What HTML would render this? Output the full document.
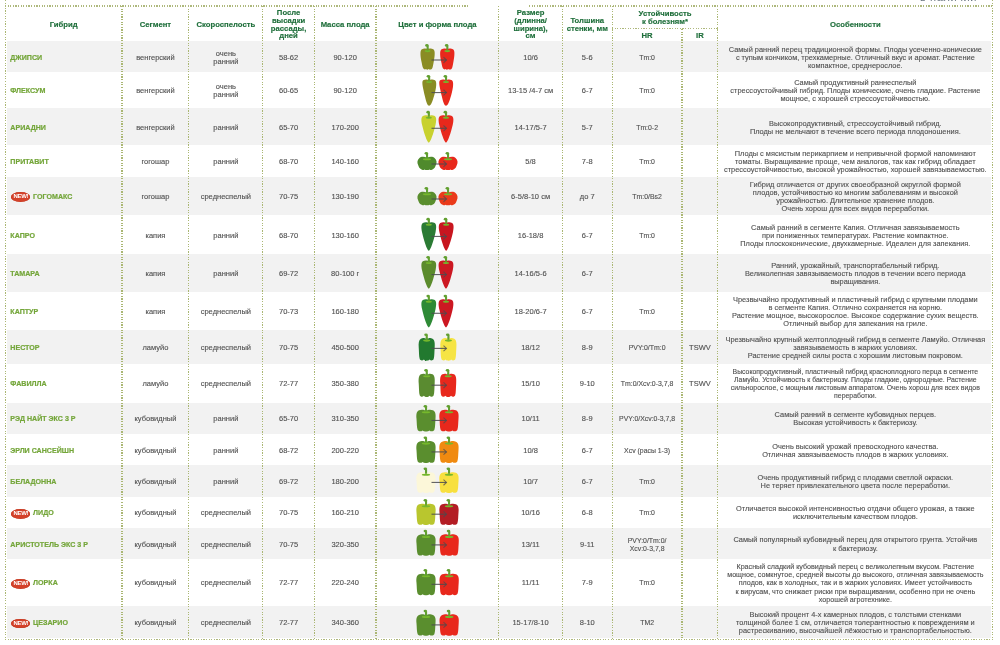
<!DOCTYPE html>
<html lang="ru"><head><meta charset="utf-8"><title>Перец</title><style>
*{margin:0;padding:0;box-sizing:border-box}
html,body{width:1000px;height:645px;overflow:hidden;background:#fff}
body{position:relative;font-family:"Liberation Sans",Arial,sans-serif;color:#505050}
.bg{position:absolute;left:7px;width:983.5px;background:#f2f2f2}
.c{position:absolute;display:flex;align-items:center;justify-content:center;text-align:center;font-size:7.5px;line-height:8px;white-space:nowrap;padding-top:2px;-webkit-text-stroke:0.12px #555}
.h{color:#1f6f3b;font-weight:bold;font-size:7.7px;line-height:7.75px;-webkit-text-stroke:0.15px #1f6f3b}
.n{justify-content:flex-start;padding-left:5px;color:#74a63a;font-weight:bold;font-size:7.1px;-webkit-text-stroke:0.2px #74a63a}
.d{font-size:7.4px;line-height:8.1px}
.hr{font-size:6.9px}
.new{display:inline-block;background:#d4412a;box-shadow:inset 0 0 0 0.6px #c23a22;color:#fff;border-radius:50%;font-size:6px;line-height:9.6px;height:9.6px;width:19.2px;text-align:center;margin-right:2.6px;margin-left:1px;font-weight:bold;letter-spacing:-0.35px;vertical-align:middle;-webkit-text-stroke:0;position:relative;top:0.4px}
.vl{position:absolute;width:1.2px;background:repeating-linear-gradient(to bottom,#abb774 0,#abb774 1.2px,transparent 1.2px,transparent 2.61px)}
.hl{position:absolute;height:1.2px;background:repeating-linear-gradient(to right,#aeb87c 0,#aeb87c 1.2px,transparent 1.2px,transparent 2.61px)}
svg{position:absolute;left:0;top:0}
.top{position:absolute;left:920px;top:-8.2px;font-size:11px;line-height:11px;color:#6a7680;letter-spacing:0.6px;white-space:nowrap}
</style></head>
<body>
<div class="top">в наличии</div>
<div class="bg" style="top:41px;height:31.30px"></div><div class="bg" style="top:108.3px;height:36.70px"></div><div class="bg" style="top:176.5px;height:38.80px"></div><div class="bg" style="top:254px;height:37.60px"></div><div class="bg" style="top:330px;height:34.00px"></div><div class="bg" style="top:402.5px;height:31.80px"></div><div class="bg" style="top:465px;height:31.50px"></div><div class="bg" style="top:528.3px;height:30.50px"></div><div class="bg" style="top:606.2px;height:31.80px"></div><div class="c h" style="left:5.3px;top:6px;width:116.75px;height:35.00px">Гибрид</div><div class="c h" style="left:122.05px;top:6px;width:66.80px;height:35.00px">Сегмент</div><div class="c h" style="left:188.85px;top:6px;width:74.05px;height:35.00px">Скороспелость</div><div class="c h" style="left:262.9px;top:6px;width:51.40px;height:35.00px">После<br>высадки<br>рассады,<br>дней</div><div class="c h" style="left:314.3px;top:6px;width:61.70px;height:35.00px">Масса плода</div><div class="c h" style="left:376.0px;top:6px;width:122.90px;height:35.00px">Цвет и форма плода</div><div class="c h" style="left:498.9px;top:6px;width:63.40px;height:35.00px">Размер<br>(длинна/<br>ширина),<br>см</div><div class="c h" style="left:562.3px;top:6px;width:49.90px;height:35.00px">Толшина<br>стенки, мм</div><div class="c h" style="left:612.2px;top:6px;width:105.70px;height:22.00px">Устойчивость<br>к болезням*</div><div class="c h" style="left:612.2px;top:28px;width:69.80px;height:13.00px">HR</div><div class="c h" style="left:682.0px;top:28px;width:35.90px;height:13.00px">IR</div><div class="c h" style="left:717.9px;top:6px;width:274.90px;height:35.00px">Особенности</div><div class="c n" style="left:5.3px;top:41px;width:116.75px;height:31.30px">ДЖИПСИ</div><div class="c" style="left:122.05px;top:41px;width:66.80px;height:31.30px">венгерский</div><div class="c" style="left:188.85px;top:41px;width:74.05px;height:31.30px">очень<br>ранний</div><div class="c" style="left:262.9px;top:41px;width:51.40px;height:31.30px">58-62</div><div class="c" style="left:314.3px;top:41px;width:61.70px;height:31.30px">90-120</div><div class="c" style="left:498.9px;top:41px;width:63.40px;height:31.30px">10/6</div><div class="c" style="left:562.3px;top:41px;width:49.90px;height:31.30px">5-6</div><div class="c hr" style="left:612.2px;top:41px;width:69.80px;height:31.30px">Tm:0</div><div class="c" style="left:682.0px;top:41px;width:35.90px;height:31.30px"></div><div class="c d" style="left:717.9px;top:41px;width:274.90px;height:31.30px">Самый ранний перец традиционной формы. Плоды усеченно-конические<br>с тупым кончиком, трехкамерные. Отличный вкус и аромат. Растение<br>компактное, среднерослое.</div><div class="c n" style="left:5.3px;top:72.3px;width:116.75px;height:36.00px">ФЛЕКСУМ</div><div class="c" style="left:122.05px;top:72.3px;width:66.80px;height:36.00px">венгерский</div><div class="c" style="left:188.85px;top:72.3px;width:74.05px;height:36.00px">очень<br>ранний</div><div class="c" style="left:262.9px;top:72.3px;width:51.40px;height:36.00px">60-65</div><div class="c" style="left:314.3px;top:72.3px;width:61.70px;height:36.00px">90-120</div><div class="c" style="left:498.9px;top:72.3px;width:63.40px;height:36.00px">13-15 /4-7 см</div><div class="c" style="left:562.3px;top:72.3px;width:49.90px;height:36.00px">6-7</div><div class="c hr" style="left:612.2px;top:72.3px;width:69.80px;height:36.00px">Tm:0</div><div class="c" style="left:682.0px;top:72.3px;width:35.90px;height:36.00px"></div><div class="c d" style="left:717.9px;top:72.3px;width:274.90px;height:36.00px">Самый продуктивный раннеспелый<br>стрессоустойчивый гибрид. Плоды конические, очень гладкие. Растение<br>мощное, с хорошей стрессоустойчивостью.</div><div class="c n" style="left:5.3px;top:108.3px;width:116.75px;height:36.70px">АРИАДНИ</div><div class="c" style="left:122.05px;top:108.3px;width:66.80px;height:36.70px">венгерский</div><div class="c" style="left:188.85px;top:108.3px;width:74.05px;height:36.70px">ранний</div><div class="c" style="left:262.9px;top:108.3px;width:51.40px;height:36.70px">65-70</div><div class="c" style="left:314.3px;top:108.3px;width:61.70px;height:36.70px">170-200</div><div class="c" style="left:498.9px;top:108.3px;width:63.40px;height:36.70px">14-17/5-7</div><div class="c" style="left:562.3px;top:108.3px;width:49.90px;height:36.70px">5-7</div><div class="c hr" style="left:612.2px;top:108.3px;width:69.80px;height:36.70px">Tm:0-2</div><div class="c" style="left:682.0px;top:108.3px;width:35.90px;height:36.70px"></div><div class="c d" style="left:717.9px;top:108.3px;width:274.90px;height:36.70px">Высокопродуктивный, стрессоустойчивый гибрид.<br>Плоды не мельчают в течение всего периода плодоношения.</div><div class="c n" style="left:5.3px;top:145px;width:116.75px;height:31.50px">ПРИТАВИТ</div><div class="c" style="left:122.05px;top:145px;width:66.80px;height:31.50px">гогошар</div><div class="c" style="left:188.85px;top:145px;width:74.05px;height:31.50px">ранний</div><div class="c" style="left:262.9px;top:145px;width:51.40px;height:31.50px">68-70</div><div class="c" style="left:314.3px;top:145px;width:61.70px;height:31.50px">140-160</div><div class="c" style="left:498.9px;top:145px;width:63.40px;height:31.50px">5/8</div><div class="c" style="left:562.3px;top:145px;width:49.90px;height:31.50px">7-8</div><div class="c hr" style="left:612.2px;top:145px;width:69.80px;height:31.50px">Tm:0</div><div class="c" style="left:682.0px;top:145px;width:35.90px;height:31.50px"></div><div class="c d" style="left:717.9px;top:145px;width:274.90px;height:31.50px">Плоды с мясистым перикарпием и непривычной формой напоминают<br>томаты. Выращивание проще, чем аналогов, так как гибрид обладает<br>стрессоустойчивостью, высокой урожайностью, хорошей завязываемостью.</div><div class="c n" style="left:5.3px;top:176.5px;width:116.75px;height:38.80px"><span class="new">NEW!</span>ГОГОМАКС</div><div class="c" style="left:122.05px;top:176.5px;width:66.80px;height:38.80px">гогошар</div><div class="c" style="left:188.85px;top:176.5px;width:74.05px;height:38.80px">среднеспелый</div><div class="c" style="left:262.9px;top:176.5px;width:51.40px;height:38.80px">70-75</div><div class="c" style="left:314.3px;top:176.5px;width:61.70px;height:38.80px">130-190</div><div class="c" style="left:498.9px;top:176.5px;width:63.40px;height:38.80px">6-5/8-10 см</div><div class="c" style="left:562.3px;top:176.5px;width:49.90px;height:38.80px">до 7</div><div class="c hr" style="left:612.2px;top:176.5px;width:69.80px;height:38.80px">Tm:0/Bs2</div><div class="c" style="left:682.0px;top:176.5px;width:35.90px;height:38.80px"></div><div class="c d" style="left:717.9px;top:176.5px;width:274.90px;height:38.80px">Гибрид отличается от других своеобразной округлой формой<br>плодов, устойчивостью ко многим заболеваниям и высокой<br>урожайностью. Длительное хранение плодов.<br>Очень хорош для всех видов переработки.</div><div class="c n" style="left:5.3px;top:215.3px;width:116.75px;height:38.70px">КАПРО</div><div class="c" style="left:122.05px;top:215.3px;width:66.80px;height:38.70px">капия</div><div class="c" style="left:188.85px;top:215.3px;width:74.05px;height:38.70px">ранний</div><div class="c" style="left:262.9px;top:215.3px;width:51.40px;height:38.70px">68-70</div><div class="c" style="left:314.3px;top:215.3px;width:61.70px;height:38.70px">130-160</div><div class="c" style="left:498.9px;top:215.3px;width:63.40px;height:38.70px">16-18/8</div><div class="c" style="left:562.3px;top:215.3px;width:49.90px;height:38.70px">6-7</div><div class="c hr" style="left:612.2px;top:215.3px;width:69.80px;height:38.70px">Tm:0</div><div class="c" style="left:682.0px;top:215.3px;width:35.90px;height:38.70px"></div><div class="c d" style="left:717.9px;top:215.3px;width:274.90px;height:38.70px">Самый ранний в сегменте Капия. Отличная завязываемость<br>при пониженных температурах. Растение компактное.<br>Плоды плоскоконические, двухкамерные. Идеален для запекания.</div><div class="c n" style="left:5.3px;top:254px;width:116.75px;height:37.60px">ТАМАРА</div><div class="c" style="left:122.05px;top:254px;width:66.80px;height:37.60px">капия</div><div class="c" style="left:188.85px;top:254px;width:74.05px;height:37.60px">ранний</div><div class="c" style="left:262.9px;top:254px;width:51.40px;height:37.60px">69-72</div><div class="c" style="left:314.3px;top:254px;width:61.70px;height:37.60px">80-100 г</div><div class="c" style="left:498.9px;top:254px;width:63.40px;height:37.60px">14-16/5-6</div><div class="c" style="left:562.3px;top:254px;width:49.90px;height:37.60px">6-7</div><div class="c hr" style="left:612.2px;top:254px;width:69.80px;height:37.60px"></div><div class="c" style="left:682.0px;top:254px;width:35.90px;height:37.60px"></div><div class="c d" style="left:717.9px;top:254px;width:274.90px;height:37.60px">Ранний, урожайный, транспортабельный гибрид.<br>Великолепная завязываемость плодов в течении всего периода<br>выращивания.</div><div class="c n" style="left:5.3px;top:291.6px;width:116.75px;height:38.40px">КАПТУР</div><div class="c" style="left:122.05px;top:291.6px;width:66.80px;height:38.40px">капия</div><div class="c" style="left:188.85px;top:291.6px;width:74.05px;height:38.40px">среднеспелый</div><div class="c" style="left:262.9px;top:291.6px;width:51.40px;height:38.40px">70-73</div><div class="c" style="left:314.3px;top:291.6px;width:61.70px;height:38.40px">160-180</div><div class="c" style="left:498.9px;top:291.6px;width:63.40px;height:38.40px">18-20/6-7</div><div class="c" style="left:562.3px;top:291.6px;width:49.90px;height:38.40px">6-7</div><div class="c hr" style="left:612.2px;top:291.6px;width:69.80px;height:38.40px">Tm:0</div><div class="c" style="left:682.0px;top:291.6px;width:35.90px;height:38.40px"></div><div class="c d" style="left:717.9px;top:291.6px;width:274.90px;height:38.40px">Чрезвычайно продуктивный и пластичный гибрид с крупными плодами<br>в сегменте Капия. Отлично сохраняется на корню.<br>Растение мощное, высокорослое. Высокое содержание сухих веществ.<br>Отличный выбор для запекания на гриле.</div><div class="c n" style="left:5.3px;top:330px;width:116.75px;height:34.00px">НЕСТОР</div><div class="c" style="left:122.05px;top:330px;width:66.80px;height:34.00px">ламуйо</div><div class="c" style="left:188.85px;top:330px;width:74.05px;height:34.00px">среднеспелый</div><div class="c" style="left:262.9px;top:330px;width:51.40px;height:34.00px">70-75</div><div class="c" style="left:314.3px;top:330px;width:61.70px;height:34.00px">450-500</div><div class="c" style="left:498.9px;top:330px;width:63.40px;height:34.00px">18/12</div><div class="c" style="left:562.3px;top:330px;width:49.90px;height:34.00px">8-9</div><div class="c hr" style="left:612.2px;top:330px;width:69.80px;height:34.00px">PVY:0/Tm:0</div><div class="c" style="left:682.0px;top:330px;width:35.90px;height:34.00px">TSWV</div><div class="c d" style="left:717.9px;top:330px;width:274.90px;height:34.00px">Чрезвычайно крупный желтоплодный гибрид в сегменте Ламуйо. Отличная<br>завязываемость в жарких условиях.<br>Растение средней силы роста с хорошим листовым покровом.</div><div class="c n" style="left:5.3px;top:364px;width:116.75px;height:38.50px">ФАВИЛЛА</div><div class="c" style="left:122.05px;top:364px;width:66.80px;height:38.50px">ламуйо</div><div class="c" style="left:188.85px;top:364px;width:74.05px;height:38.50px">среднеспелый</div><div class="c" style="left:262.9px;top:364px;width:51.40px;height:38.50px">72-77</div><div class="c" style="left:314.3px;top:364px;width:61.70px;height:38.50px">350-380</div><div class="c" style="left:498.9px;top:364px;width:63.40px;height:38.50px">15/10</div><div class="c" style="left:562.3px;top:364px;width:49.90px;height:38.50px">9-10</div><div class="c hr" style="left:612.2px;top:364px;width:69.80px;height:38.50px">Tm:0/Xcv:0-3,7,8</div><div class="c" style="left:682.0px;top:364px;width:35.90px;height:38.50px">TSWV</div><div class="c d" style="left:717.9px;top:364px;width:274.90px;height:38.50px"><span style="font-size:6.9px">Высокопродуктивный, пластичный гибрид красноплодного перца в сегменте<br>Ламуйо. Устойчивость к бактериозу. Плоды гладкие, однородные. Растение<br>сильнорослое, с мощным листовым аппаратом. Очень хорош для всех видов<br>переработки.</span></div><div class="c n" style="left:5.3px;top:402.5px;width:116.75px;height:31.80px">РЭД НАЙТ ЭКС 3 Р</div><div class="c" style="left:122.05px;top:402.5px;width:66.80px;height:31.80px">кубовидный</div><div class="c" style="left:188.85px;top:402.5px;width:74.05px;height:31.80px">ранний</div><div class="c" style="left:262.9px;top:402.5px;width:51.40px;height:31.80px">65-70</div><div class="c" style="left:314.3px;top:402.5px;width:61.70px;height:31.80px">310-350</div><div class="c" style="left:498.9px;top:402.5px;width:63.40px;height:31.80px">10/11</div><div class="c" style="left:562.3px;top:402.5px;width:49.90px;height:31.80px">8-9</div><div class="c hr" style="left:612.2px;top:402.5px;width:69.80px;height:31.80px">PVY:0/Xcv:0-3,7,8</div><div class="c" style="left:682.0px;top:402.5px;width:35.90px;height:31.80px"></div><div class="c d" style="left:717.9px;top:402.5px;width:274.90px;height:31.80px">Самый ранний в сегменте кубовидных перцев.<br>Высокая устойчивость к бактериозу.</div><div class="c n" style="left:5.3px;top:434.3px;width:116.75px;height:30.70px">ЭРЛИ САНСЕЙШН</div><div class="c" style="left:122.05px;top:434.3px;width:66.80px;height:30.70px">кубовидный</div><div class="c" style="left:188.85px;top:434.3px;width:74.05px;height:30.70px">ранний</div><div class="c" style="left:262.9px;top:434.3px;width:51.40px;height:30.70px">68-72</div><div class="c" style="left:314.3px;top:434.3px;width:61.70px;height:30.70px">200-220</div><div class="c" style="left:498.9px;top:434.3px;width:63.40px;height:30.70px">10/8</div><div class="c" style="left:562.3px;top:434.3px;width:49.90px;height:30.70px">6-7</div><div class="c hr" style="left:612.2px;top:434.3px;width:69.80px;height:30.70px">Xcv (расы 1-3)</div><div class="c" style="left:682.0px;top:434.3px;width:35.90px;height:30.70px"></div><div class="c d" style="left:717.9px;top:434.3px;width:274.90px;height:30.70px">Очень высокий урожай превосходного качества.<br>Отличная завязываемость плодов в жарких условиях.</div><div class="c n" style="left:5.3px;top:465px;width:116.75px;height:31.50px">БЕЛАДОННА</div><div class="c" style="left:122.05px;top:465px;width:66.80px;height:31.50px">кубовидный</div><div class="c" style="left:188.85px;top:465px;width:74.05px;height:31.50px">ранний</div><div class="c" style="left:262.9px;top:465px;width:51.40px;height:31.50px">69-72</div><div class="c" style="left:314.3px;top:465px;width:61.70px;height:31.50px">180-200</div><div class="c" style="left:498.9px;top:465px;width:63.40px;height:31.50px">10/7</div><div class="c" style="left:562.3px;top:465px;width:49.90px;height:31.50px">6-7</div><div class="c hr" style="left:612.2px;top:465px;width:69.80px;height:31.50px">Tm:0</div><div class="c" style="left:682.0px;top:465px;width:35.90px;height:31.50px"></div><div class="c d" style="left:717.9px;top:465px;width:274.90px;height:31.50px">Очень продуктивный гибрид с плодами светлой окраски.<br>Не теряет привлекательного цвета после переработки.</div><div class="c n" style="left:5.3px;top:496.5px;width:116.75px;height:31.80px"><span class="new">NEW!</span>ЛИДО</div><div class="c" style="left:122.05px;top:496.5px;width:66.80px;height:31.80px">кубовидный</div><div class="c" style="left:188.85px;top:496.5px;width:74.05px;height:31.80px">среднеспелый</div><div class="c" style="left:262.9px;top:496.5px;width:51.40px;height:31.80px">70-75</div><div class="c" style="left:314.3px;top:496.5px;width:61.70px;height:31.80px">160-210</div><div class="c" style="left:498.9px;top:496.5px;width:63.40px;height:31.80px">10/16</div><div class="c" style="left:562.3px;top:496.5px;width:49.90px;height:31.80px">6-8</div><div class="c hr" style="left:612.2px;top:496.5px;width:69.80px;height:31.80px">Tm:0</div><div class="c" style="left:682.0px;top:496.5px;width:35.90px;height:31.80px"></div><div class="c d" style="left:717.9px;top:496.5px;width:274.90px;height:31.80px">Отличается высокой интенсивностью отдачи общего урожая, а также<br>исключительным качеством плодов.</div><div class="c n" style="left:5.3px;top:528.3px;width:116.75px;height:30.50px">АРИСТОТЕЛЬ ЭКС 3 Р</div><div class="c" style="left:122.05px;top:528.3px;width:66.80px;height:30.50px">кубовидный</div><div class="c" style="left:188.85px;top:528.3px;width:74.05px;height:30.50px">среднеспелый</div><div class="c" style="left:262.9px;top:528.3px;width:51.40px;height:30.50px">70-75</div><div class="c" style="left:314.3px;top:528.3px;width:61.70px;height:30.50px">320-350</div><div class="c" style="left:498.9px;top:528.3px;width:63.40px;height:30.50px">13/11</div><div class="c" style="left:562.3px;top:528.3px;width:49.90px;height:30.50px">9-11</div><div class="c hr" style="left:612.2px;top:528.3px;width:69.80px;height:30.50px">PVY:0/Tm:0/<br>Xcv:0-3,7,8</div><div class="c" style="left:682.0px;top:528.3px;width:35.90px;height:30.50px"></div><div class="c d" style="left:717.9px;top:528.3px;width:274.90px;height:30.50px">Самый популярный кубовидный перец для открытого грунта. Устойчив<br>к бактериозу.</div><div class="c n" style="left:5.3px;top:558.8px;width:116.75px;height:47.40px"><span class="new">NEW!</span>ЛОРКА</div><div class="c" style="left:122.05px;top:558.8px;width:66.80px;height:47.40px">кубовидный</div><div class="c" style="left:188.85px;top:558.8px;width:74.05px;height:47.40px">среднеспелый</div><div class="c" style="left:262.9px;top:558.8px;width:51.40px;height:47.40px">72-77</div><div class="c" style="left:314.3px;top:558.8px;width:61.70px;height:47.40px">220-240</div><div class="c" style="left:498.9px;top:558.8px;width:63.40px;height:47.40px">11/11</div><div class="c" style="left:562.3px;top:558.8px;width:49.90px;height:47.40px">7-9</div><div class="c hr" style="left:612.2px;top:558.8px;width:69.80px;height:47.40px">Tm:0</div><div class="c" style="left:682.0px;top:558.8px;width:35.90px;height:47.40px"></div><div class="c d" style="left:717.9px;top:558.8px;width:274.90px;height:47.40px"><span style="font-size:7.15px">Красный сладкий кубовидный перец с великолепным вкусом. Растение<br>мощное, сомкнутое, средней высоты до высокого, отличная завязываемость<br>плодов, как в холодных, так и в жарких условиях. Имеет устойчивость<br>к вирусам, что снижает риски при выращивании, особенно при не очень<br>хорошей агротехнике.</span></div><div class="c n" style="left:5.3px;top:606.2px;width:116.75px;height:31.80px"><span class="new">NEW!</span>ЦЕЗАРИО</div><div class="c" style="left:122.05px;top:606.2px;width:66.80px;height:31.80px">кубовидный</div><div class="c" style="left:188.85px;top:606.2px;width:74.05px;height:31.80px">среднеспелый</div><div class="c" style="left:262.9px;top:606.2px;width:51.40px;height:31.80px">72-77</div><div class="c" style="left:314.3px;top:606.2px;width:61.70px;height:31.80px">340-360</div><div class="c" style="left:498.9px;top:606.2px;width:63.40px;height:31.80px">15-17/8-10</div><div class="c" style="left:562.3px;top:606.2px;width:49.90px;height:31.80px">8-10</div><div class="c hr" style="left:612.2px;top:606.2px;width:69.80px;height:31.80px">TM2</div><div class="c" style="left:682.0px;top:606.2px;width:35.90px;height:31.80px"></div><div class="c d" style="left:717.9px;top:606.2px;width:274.90px;height:31.80px">Высокий процент 4-х камерных плодов, с толстыми стенками<br>толщиной более 1 см, отличается толерантностью к повреждениям и<br>растрескиванию, высочайшей лёжкостью и транспортабельностью.</div>
<div class="vl" style="left:4.70px;top:0px;height:640.3px"></div><div class="vl" style="left:992.20px;top:0px;height:640.3px"></div><div class="vl" style="left:121.45px;top:6px;height:633.6px"></div><div class="vl" style="left:188.25px;top:6px;height:633.6px"></div><div class="vl" style="left:262.30px;top:6px;height:633.6px"></div><div class="vl" style="left:313.70px;top:6px;height:633.6px"></div><div class="vl" style="left:375.40px;top:6px;height:633.6px"></div><div class="vl" style="left:498.30px;top:6px;height:633.6px"></div><div class="vl" style="left:561.70px;top:6px;height:633.6px"></div><div class="vl" style="left:611.60px;top:6px;height:633.6px"></div><div class="vl" style="left:681.40px;top:28.6px;height:611.0px"></div><div class="vl" style="left:717.30px;top:6px;height:633.6px"></div><div class="hl" style="left:5.3px;top:5.40px;width:464.70px"></div><div class="hl" style="left:529px;top:5.40px;width:464.40px"></div><div class="hl" style="left:612.2px;top:28.00px;width:105.70px"></div><div class="hl" style="left:5.3px;top:639.00px;width:988.10px"></div>
<svg width="1000" height="645" viewBox="0 0 1000 645"><rect x="426.60" y="45.70" width="2.1" height="4.40" fill="#62a030"/><ellipse cx="426.90" cy="45.45" rx="1.75" ry="1.35" fill="#62a030"/><path d="M421.98,49.13 C424.64,47.87 426.42,48.92 427.60,49.34 C428.78,48.92 430.56,47.87 433.22,49.13 C435.30,50.19 435.00,54.83 433.82,61.16 C433.08,65.38 432.78,67.91 431.74,68.97 C430.56,70.02 429.38,69.60 428.49,68.97 C427.60,70.02 426.71,70.02 426.12,68.97 C425.08,69.60 424.05,69.60 423.16,68.33 C422.27,66.44 421.98,63.27 421.38,61.16 C420.20,54.83 419.90,50.19 421.98,49.13 Z" fill="#8a8c24"/><ellipse cx="427.60" cy="51.10" rx="3.11" ry="1.05" fill="#76b82c"/><rect x="426.70" y="48.20" width="1.8" height="2.4" fill="#62a030" opacity="0.8"/><rect x="446.30" y="45.70" width="2.1" height="4.40" fill="#62a030"/><ellipse cx="446.60" cy="45.45" rx="1.75" ry="1.35" fill="#62a030"/><path d="M441.68,49.13 C444.34,47.87 446.12,48.92 447.30,49.34 C448.48,48.92 450.26,47.87 452.92,49.13 C455.00,50.19 454.70,54.83 453.52,61.16 C452.78,65.38 452.48,67.91 451.44,68.97 C450.26,70.02 449.08,69.60 448.19,68.97 C447.30,70.02 446.41,70.02 445.82,68.97 C444.78,69.60 443.75,69.60 442.86,68.33 C441.97,66.44 441.68,63.27 441.08,61.16 C439.90,54.83 439.60,50.19 441.68,49.13 Z" fill="#e8281c"/><ellipse cx="447.30" cy="51.10" rx="3.11" ry="1.05" fill="#76b82c"/><rect x="446.40" y="48.20" width="1.8" height="2.4" fill="#62a030" opacity="0.8"/><path d="M431.5,60.00 L446.5,60.00" stroke="#4b4b4f" stroke-width="1.15" fill="none" opacity="0.85"/><path d="M443.50,57.20 L446.50,60.00 L443.50,62.80" stroke="#4b4b4f" stroke-width="1.05" fill="none" opacity="0.75"/><rect x="428.10" y="76.60" width="2.1" height="4.40" fill="#62a030"/><ellipse cx="428.40" cy="76.35" rx="1.75" ry="1.35" fill="#62a030"/><path d="M423.18,80.19 C426.14,78.87 427.92,79.93 429.10,80.19 C430.28,79.93 432.06,78.87 435.02,80.19 C436.94,81.50 436.50,87.29 434.28,95.18 C432.36,101.75 430.88,105.70 429.10,105.70 C427.62,105.70 426.44,103.07 424.96,96.50 C423.18,88.61 421.26,81.50 423.18,80.19 Z" fill="#8a8c24"/><ellipse cx="429.10" cy="82.00" rx="3.11" ry="1.05" fill="#76b82c"/><rect x="428.20" y="79.10" width="1.8" height="2.4" fill="#62a030" opacity="0.8"/><rect x="445.00" y="76.60" width="2.1" height="4.40" fill="#62a030"/><ellipse cx="445.30" cy="76.35" rx="1.75" ry="1.35" fill="#62a030"/><path d="M440.08,80.19 C443.04,78.87 444.82,79.93 446.00,80.19 C447.18,79.93 448.96,78.87 451.92,80.19 C453.84,81.50 453.40,87.29 451.18,95.18 C449.26,101.75 447.78,105.70 446.00,105.70 C444.52,105.70 443.34,103.07 441.86,96.50 C440.08,88.61 438.16,81.50 440.08,80.19 Z" fill="#e8281c"/><ellipse cx="446.00" cy="82.00" rx="3.11" ry="1.05" fill="#76b82c"/><rect x="445.10" y="79.10" width="1.8" height="2.4" fill="#62a030" opacity="0.8"/><path d="M431.5,92.55 L446.5,92.55" stroke="#4b4b4f" stroke-width="1.15" fill="none" opacity="0.85"/><path d="M443.50,89.75 L446.50,92.55 L443.50,95.35" stroke="#4b4b4f" stroke-width="1.05" fill="none" opacity="0.75"/><rect x="427.80" y="112.40" width="2.1" height="4.40" fill="#62a030"/><ellipse cx="428.10" cy="112.15" rx="1.75" ry="1.35" fill="#62a030"/><path d="M422.80,116.03 C425.80,114.65 427.60,115.75 428.80,116.03 C430.00,115.75 431.80,114.65 434.80,116.03 C436.75,117.41 436.30,121.27 435.55,124.86 C433.60,133.14 430.60,142.25 428.80,142.80 C427.00,142.25 424.00,133.14 422.05,124.86 C421.30,121.27 420.85,117.41 422.80,116.03 Z" fill="#c8d12e"/><ellipse cx="428.80" cy="117.80" rx="3.15" ry="1.05" fill="#76b82c"/><rect x="427.90" y="114.90" width="1.8" height="2.4" fill="#62a030" opacity="0.8"/><rect x="445.00" y="112.40" width="2.1" height="4.40" fill="#62a030"/><ellipse cx="445.30" cy="112.15" rx="1.75" ry="1.35" fill="#62a030"/><path d="M440.00,116.03 C443.00,114.65 444.80,115.75 446.00,116.03 C447.20,115.75 449.00,114.65 452.00,116.03 C453.95,117.41 453.50,121.27 452.75,124.86 C450.80,133.14 447.80,142.25 446.00,142.80 C444.20,142.25 441.20,133.14 439.25,124.86 C438.50,121.27 438.05,117.41 440.00,116.03 Z" fill="#e8281c"/><ellipse cx="446.00" cy="117.80" rx="3.15" ry="1.05" fill="#76b82c"/><rect x="445.10" y="114.90" width="1.8" height="2.4" fill="#62a030" opacity="0.8"/><path d="M431.5,128.30 L446.5,128.30" stroke="#4b4b4f" stroke-width="1.15" fill="none" opacity="0.85"/><path d="M443.50,125.50 L446.50,128.30 L443.50,131.10" stroke="#4b4b4f" stroke-width="1.05" fill="none" opacity="0.75"/><rect x="426.00" y="153.60" width="2.1" height="4.60" fill="#62a030"/><ellipse cx="426.30" cy="153.35" rx="1.75" ry="1.35" fill="#62a030"/><path d="M419.20,158.21 C421.15,156.20 424.66,156.47 427.00,157.81 C429.34,156.47 432.85,156.20 434.80,158.21 C436.75,159.95 437.14,162.63 435.77,165.31 C435.19,167.05 434.41,168.66 432.85,169.33 C431.88,170.27 430.51,170.27 429.54,169.46 C428.56,170.27 425.44,170.27 424.46,169.46 C423.49,170.27 422.12,170.27 421.15,169.33 C419.59,168.66 418.81,167.05 418.23,165.31 C416.86,162.63 417.25,159.95 419.20,158.21 Z" fill="#4f8a2c"/><ellipse cx="427.00" cy="159.20" rx="4.09" ry="1.05" fill="#76b82c"/><rect x="426.10" y="156.30" width="1.8" height="2.4" fill="#62a030" opacity="0.8"/><rect x="447.00" y="153.60" width="2.1" height="4.60" fill="#62a030"/><ellipse cx="447.30" cy="153.35" rx="1.75" ry="1.35" fill="#62a030"/><path d="M440.20,158.21 C442.15,156.20 445.66,156.47 448.00,157.81 C450.34,156.47 453.85,156.20 455.80,158.21 C457.75,159.95 458.14,162.63 456.77,165.31 C456.19,167.05 455.41,168.66 453.85,169.33 C452.88,170.27 451.51,170.27 450.54,169.46 C449.56,170.27 446.44,170.27 445.46,169.46 C444.49,170.27 443.12,170.27 442.15,169.33 C440.59,168.66 439.81,167.05 439.23,165.31 C437.86,162.63 438.25,159.95 440.20,158.21 Z" fill="#e8281c"/><ellipse cx="448.00" cy="159.20" rx="4.09" ry="1.05" fill="#76b82c"/><rect x="447.10" y="156.30" width="1.8" height="2.4" fill="#62a030" opacity="0.8"/><path d="M431.5,164.00 L446.5,164.00" stroke="#4b4b4f" stroke-width="1.15" fill="none" opacity="0.85"/><path d="M443.50,161.20 L446.50,164.00 L443.50,166.80" stroke="#4b4b4f" stroke-width="1.05" fill="none" opacity="0.75"/><rect x="426.00" y="188.60" width="2.1" height="4.60" fill="#62a030"/><ellipse cx="426.30" cy="188.35" rx="1.75" ry="1.35" fill="#62a030"/><path d="M419.20,193.23 C421.15,191.19 424.66,191.46 427.00,192.82 C429.34,191.46 432.85,191.19 434.80,193.23 C436.75,195.00 437.14,197.72 435.77,200.44 C435.19,202.21 434.41,203.84 432.85,204.52 C431.88,205.47 430.51,205.47 429.54,204.66 C428.56,205.47 425.44,205.47 424.46,204.66 C423.49,205.47 422.12,205.47 421.15,204.52 C419.59,203.84 418.81,202.21 418.23,200.44 C416.86,197.72 417.25,195.00 419.20,193.23 Z" fill="#5a8e2e"/><ellipse cx="427.00" cy="194.20" rx="4.09" ry="1.05" fill="#76b82c"/><rect x="426.10" y="191.30" width="1.8" height="2.4" fill="#62a030" opacity="0.8"/><rect x="447.00" y="188.60" width="2.1" height="4.60" fill="#62a030"/><ellipse cx="447.30" cy="188.35" rx="1.75" ry="1.35" fill="#62a030"/><path d="M440.20,193.23 C442.15,191.19 445.66,191.46 448.00,192.82 C450.34,191.46 453.85,191.19 455.80,193.23 C457.75,195.00 458.14,197.72 456.77,200.44 C456.19,202.21 455.41,203.84 453.85,204.52 C452.88,205.47 451.51,205.47 450.54,204.66 C449.56,205.47 446.44,205.47 445.46,204.66 C444.49,205.47 443.12,205.47 442.15,204.52 C440.59,203.84 439.81,202.21 439.23,200.44 C437.86,197.72 438.25,195.00 440.20,193.23 Z" fill="#ea3a1a"/><ellipse cx="448.00" cy="194.20" rx="4.09" ry="1.05" fill="#76b82c"/><rect x="447.10" y="191.30" width="1.8" height="2.4" fill="#62a030" opacity="0.8"/><path d="M431.5,199.00 L446.5,199.00" stroke="#4b4b4f" stroke-width="1.15" fill="none" opacity="0.85"/><path d="M443.50,196.20 L446.50,199.00 L443.50,201.80" stroke="#4b4b4f" stroke-width="1.05" fill="none" opacity="0.75"/><rect x="427.80" y="219.40" width="2.1" height="4.40" fill="#62a030"/><ellipse cx="428.10" cy="219.15" rx="1.75" ry="1.35" fill="#62a030"/><path d="M422.80,223.06 C425.80,221.63 427.60,222.77 428.80,223.06 C430.00,222.77 431.80,221.63 434.80,223.06 C436.75,224.48 436.30,228.47 435.55,232.18 C433.60,240.72 430.60,250.13 428.80,250.70 C427.00,250.13 424.00,240.72 422.05,232.18 C421.30,228.47 420.85,224.48 422.80,223.06 Z" fill="#2b7b34"/><ellipse cx="428.80" cy="224.80" rx="3.15" ry="1.05" fill="#76b82c"/><rect x="427.90" y="221.90" width="1.8" height="2.4" fill="#62a030" opacity="0.8"/><rect x="445.20" y="219.40" width="2.1" height="4.40" fill="#62a030"/><ellipse cx="445.50" cy="219.15" rx="1.75" ry="1.35" fill="#62a030"/><path d="M440.20,223.06 C443.20,221.63 445.00,222.77 446.20,223.06 C447.40,222.77 449.20,221.63 452.20,223.06 C454.15,224.48 453.70,228.47 452.95,232.18 C451.00,240.72 448.00,250.13 446.20,250.70 C444.40,250.13 441.40,240.72 439.45,232.18 C438.70,228.47 438.25,224.48 440.20,223.06 Z" fill="#c8161f"/><ellipse cx="446.20" cy="224.80" rx="3.15" ry="1.05" fill="#76b82c"/><rect x="445.30" y="221.90" width="1.8" height="2.4" fill="#62a030" opacity="0.8"/><path d="M431.5,236.45 L446.5,236.45" stroke="#4b4b4f" stroke-width="1.15" fill="none" opacity="0.85"/><path d="M443.50,233.65 L446.50,236.45 L443.50,239.25" stroke="#4b4b4f" stroke-width="1.05" fill="none" opacity="0.75"/><rect x="427.80" y="257.60" width="2.1" height="4.40" fill="#62a030"/><ellipse cx="428.10" cy="257.35" rx="1.75" ry="1.35" fill="#62a030"/><path d="M422.80,261.25 C425.80,259.83 427.60,260.97 428.80,261.25 C430.00,260.97 431.80,259.83 434.80,261.25 C436.75,262.66 436.30,266.63 435.55,270.31 C433.60,278.79 430.60,288.13 428.80,288.70 C427.00,288.13 424.00,278.79 422.05,270.31 C421.30,266.63 420.85,262.66 422.80,261.25 Z" fill="#5b8b2c"/><ellipse cx="428.80" cy="263.00" rx="3.15" ry="1.05" fill="#76b82c"/><rect x="427.90" y="260.10" width="1.8" height="2.4" fill="#62a030" opacity="0.8"/><rect x="445.00" y="257.60" width="2.1" height="4.40" fill="#62a030"/><ellipse cx="445.30" cy="257.35" rx="1.75" ry="1.35" fill="#62a030"/><path d="M440.00,261.25 C443.00,259.83 444.80,260.97 446.00,261.25 C447.20,260.97 449.00,259.83 452.00,261.25 C453.95,262.66 453.50,266.63 452.75,270.31 C450.80,278.79 447.80,288.13 446.00,288.70 C444.20,288.13 441.20,278.79 439.25,270.31 C438.50,266.63 438.05,262.66 440.00,261.25 Z" fill="#cc1822"/><ellipse cx="446.00" cy="263.00" rx="3.15" ry="1.05" fill="#76b82c"/><rect x="445.10" y="260.10" width="1.8" height="2.4" fill="#62a030" opacity="0.8"/><path d="M431.5,274.55 L446.5,274.55" stroke="#4b4b4f" stroke-width="1.15" fill="none" opacity="0.85"/><path d="M443.50,271.75 L446.50,274.55 L443.50,277.35" stroke="#4b4b4f" stroke-width="1.05" fill="none" opacity="0.75"/><rect x="427.80" y="296.30" width="2.1" height="4.40" fill="#62a030"/><ellipse cx="428.10" cy="296.05" rx="1.75" ry="1.35" fill="#62a030"/><path d="M422.80,299.95 C425.80,298.53 427.60,299.67 428.80,299.95 C430.00,299.67 431.80,298.53 434.80,299.95 C436.75,301.37 436.30,305.35 435.55,309.04 C433.60,317.56 430.60,326.93 428.80,327.50 C427.00,326.93 424.00,317.56 422.05,309.04 C421.30,305.35 420.85,301.37 422.80,299.95 Z" fill="#2e8a36"/><ellipse cx="428.80" cy="301.70" rx="3.15" ry="1.05" fill="#76b82c"/><rect x="427.90" y="298.80" width="1.8" height="2.4" fill="#62a030" opacity="0.8"/><rect x="445.00" y="296.30" width="2.1" height="4.40" fill="#62a030"/><ellipse cx="445.30" cy="296.05" rx="1.75" ry="1.35" fill="#62a030"/><path d="M440.00,299.95 C443.00,298.53 444.80,299.67 446.00,299.95 C447.20,299.67 449.00,298.53 452.00,299.95 C453.95,301.37 453.50,305.35 452.75,309.04 C450.80,317.56 447.80,326.93 446.00,327.50 C444.20,326.93 441.20,317.56 439.25,309.04 C438.50,305.35 438.05,301.37 440.00,299.95 Z" fill="#cc1822"/><ellipse cx="446.00" cy="301.70" rx="3.15" ry="1.05" fill="#76b82c"/><rect x="445.10" y="298.80" width="1.8" height="2.4" fill="#62a030" opacity="0.8"/><path d="M431.5,313.30 L446.5,313.30" stroke="#4b4b4f" stroke-width="1.15" fill="none" opacity="0.85"/><path d="M443.50,310.50 L446.50,313.30 L443.50,316.10" stroke="#4b4b4f" stroke-width="1.05" fill="none" opacity="0.75"/><rect x="425.70" y="335.00" width="2.1" height="4.60" fill="#62a030"/><ellipse cx="426.00" cy="334.75" rx="1.75" ry="1.35" fill="#62a030"/><path d="M420.89,338.68 C423.38,337.32 425.37,338.45 426.70,339.13 C428.03,338.45 430.02,337.32 432.51,338.68 C434.67,339.81 435.00,342.97 434.67,347.49 C434.34,352.01 434.50,356.53 433.67,359.02 C432.84,360.83 430.68,360.83 429.52,359.47 C428.36,361.05 425.04,361.05 423.88,359.47 C422.72,360.83 420.56,360.83 419.73,359.02 C418.90,356.53 419.06,352.01 418.73,347.49 C418.40,342.97 418.73,339.81 420.89,338.68 Z" fill="#22792f"/><ellipse cx="426.70" cy="340.60" rx="3.49" ry="1.05" fill="#76b82c"/><rect x="425.80" y="337.70" width="1.8" height="2.4" fill="#62a030" opacity="0.8"/><rect x="447.40" y="335.00" width="2.1" height="4.60" fill="#62a030"/><ellipse cx="447.70" cy="334.75" rx="1.75" ry="1.35" fill="#62a030"/><path d="M442.59,338.68 C445.08,337.32 447.07,338.45 448.40,339.13 C449.73,338.45 451.72,337.32 454.21,338.68 C456.37,339.81 456.70,342.97 456.37,347.49 C456.04,352.01 456.20,356.53 455.37,359.02 C454.54,360.83 452.38,360.83 451.22,359.47 C450.06,361.05 446.74,361.05 445.58,359.47 C444.42,360.83 442.26,360.83 441.43,359.02 C440.60,356.53 440.76,352.01 440.43,347.49 C440.10,342.97 440.43,339.81 442.59,338.68 Z" fill="#f6e444"/><ellipse cx="448.40" cy="340.60" rx="3.49" ry="1.05" fill="#76b82c"/><rect x="447.50" y="337.70" width="1.8" height="2.4" fill="#62a030" opacity="0.8"/><path d="M431.5,348.40 L446.5,348.40" stroke="#4b4b4f" stroke-width="1.15" fill="none" opacity="0.85"/><path d="M443.50,345.60 L446.50,348.40 L443.50,351.20" stroke="#4b4b4f" stroke-width="1.05" fill="none" opacity="0.75"/><rect x="425.70" y="370.60" width="2.1" height="4.60" fill="#62a030"/><ellipse cx="426.00" cy="370.35" rx="1.75" ry="1.35" fill="#62a030"/><path d="M420.89,374.30 C423.38,372.90 425.37,374.07 426.70,374.77 C428.03,374.07 430.02,372.90 432.51,374.30 C434.67,375.47 435.00,378.75 434.67,383.43 C434.34,388.11 434.50,392.79 433.67,395.36 C432.84,397.23 430.68,397.23 429.52,395.83 C428.36,397.47 425.04,397.47 423.88,395.83 C422.72,397.23 420.56,397.23 419.73,395.36 C418.90,392.79 419.06,388.11 418.73,383.43 C418.40,378.75 418.73,375.47 420.89,374.30 Z" fill="#5a8b30"/><ellipse cx="426.70" cy="376.20" rx="3.49" ry="1.05" fill="#76b82c"/><rect x="425.80" y="373.30" width="1.8" height="2.4" fill="#62a030" opacity="0.8"/><rect x="447.20" y="370.60" width="2.1" height="4.60" fill="#62a030"/><ellipse cx="447.50" cy="370.35" rx="1.75" ry="1.35" fill="#62a030"/><path d="M442.39,374.30 C444.88,372.90 446.87,374.07 448.20,374.77 C449.53,374.07 451.52,372.90 454.01,374.30 C456.17,375.47 456.50,378.75 456.17,383.43 C455.84,388.11 456.00,392.79 455.17,395.36 C454.34,397.23 452.18,397.23 451.02,395.83 C449.86,397.47 446.54,397.47 445.38,395.83 C444.22,397.23 442.06,397.23 441.23,395.36 C440.40,392.79 440.56,388.11 440.23,383.43 C439.90,378.75 440.23,375.47 442.39,374.30 Z" fill="#e8281c"/><ellipse cx="448.20" cy="376.20" rx="3.49" ry="1.05" fill="#76b82c"/><rect x="447.30" y="373.30" width="1.8" height="2.4" fill="#62a030" opacity="0.8"/><path d="M431.5,385.20 L446.5,385.20" stroke="#4b4b4f" stroke-width="1.15" fill="none" opacity="0.85"/><path d="M443.50,382.40 L446.50,385.20 L443.50,388.00" stroke="#4b4b4f" stroke-width="1.05" fill="none" opacity="0.75"/><rect x="425.00" y="406.60" width="2.1" height="4.60" fill="#62a030"/><ellipse cx="425.30" cy="406.35" rx="1.75" ry="1.35" fill="#62a030"/><path d="M419.07,410.26 C422.04,408.94 424.42,410.04 426.00,410.70 C427.58,410.04 429.96,408.94 432.93,410.26 C435.50,411.35 435.90,414.42 435.50,418.80 C435.11,423.18 435.31,427.56 434.32,429.97 C433.33,431.72 430.75,431.72 429.37,430.40 C427.98,431.94 424.02,431.94 422.63,430.40 C421.25,431.72 418.67,431.72 417.68,429.97 C416.69,427.56 416.89,423.18 416.50,418.80 C416.10,414.42 416.50,411.35 419.07,410.26 Z" fill="#5a8e2e"/><ellipse cx="426.00" cy="412.20" rx="4.16" ry="1.05" fill="#76b82c"/><rect x="425.10" y="409.30" width="1.8" height="2.4" fill="#62a030" opacity="0.8"/><rect x="448.00" y="406.60" width="2.1" height="4.60" fill="#62a030"/><ellipse cx="448.30" cy="406.35" rx="1.75" ry="1.35" fill="#62a030"/><path d="M442.07,410.26 C445.04,408.94 447.42,410.04 449.00,410.70 C450.58,410.04 452.96,408.94 455.93,410.26 C458.50,411.35 458.90,414.42 458.50,418.80 C458.11,423.18 458.31,427.56 457.32,429.97 C456.33,431.72 453.75,431.72 452.37,430.40 C450.98,431.94 447.02,431.94 445.63,430.40 C444.25,431.72 441.67,431.72 440.68,429.97 C439.69,427.56 439.89,423.18 439.50,418.80 C439.10,414.42 439.50,411.35 442.07,410.26 Z" fill="#e8281c"/><ellipse cx="449.00" cy="412.20" rx="4.16" ry="1.05" fill="#76b82c"/><rect x="448.10" y="409.30" width="1.8" height="2.4" fill="#62a030" opacity="0.8"/><path d="M431.5,420.45 L446.5,420.45" stroke="#4b4b4f" stroke-width="1.15" fill="none" opacity="0.85"/><path d="M443.50,417.65 L446.50,420.45 L443.50,423.25" stroke="#4b4b4f" stroke-width="1.05" fill="none" opacity="0.75"/><rect x="425.00" y="438.00" width="2.1" height="4.60" fill="#62a030"/><ellipse cx="425.30" cy="437.75" rx="1.75" ry="1.35" fill="#62a030"/><path d="M419.07,441.66 C422.04,440.34 424.42,441.44 426.00,442.10 C427.58,441.44 429.96,440.34 432.93,441.66 C435.50,442.76 435.90,445.84 435.50,450.24 C435.11,454.64 435.31,459.04 434.32,461.46 C433.33,463.22 430.75,463.22 429.37,461.90 C427.98,463.44 424.02,463.44 422.63,461.90 C421.25,463.22 418.67,463.22 417.68,461.46 C416.69,459.04 416.89,454.64 416.50,450.24 C416.10,445.84 416.50,442.76 419.07,441.66 Z" fill="#5a8e2e"/><ellipse cx="426.00" cy="443.60" rx="4.16" ry="1.05" fill="#76b82c"/><rect x="425.10" y="440.70" width="1.8" height="2.4" fill="#62a030" opacity="0.8"/><rect x="448.00" y="438.00" width="2.1" height="4.60" fill="#62a030"/><ellipse cx="448.30" cy="437.75" rx="1.75" ry="1.35" fill="#62a030"/><path d="M442.07,441.66 C445.04,440.34 447.42,441.44 449.00,442.10 C450.58,441.44 452.96,440.34 455.93,441.66 C458.50,442.76 458.90,445.84 458.50,450.24 C458.11,454.64 458.31,459.04 457.32,461.46 C456.33,463.22 453.75,463.22 452.37,461.90 C450.98,463.44 447.02,463.44 445.63,461.90 C444.25,463.22 441.67,463.22 440.68,461.46 C439.69,459.04 439.89,454.64 439.50,450.24 C439.10,445.84 439.50,442.76 442.07,441.66 Z" fill="#f08a10"/><ellipse cx="449.00" cy="443.60" rx="4.16" ry="1.05" fill="#76b82c"/><rect x="448.10" y="440.70" width="1.8" height="2.4" fill="#62a030" opacity="0.8"/><path d="M431.5,451.90 L446.5,451.90" stroke="#4b4b4f" stroke-width="1.15" fill="none" opacity="0.85"/><path d="M443.50,449.10 L446.50,451.90 L443.50,454.70" stroke="#4b4b4f" stroke-width="1.05" fill="none" opacity="0.75"/><rect x="425.00" y="469.10" width="2.1" height="4.60" fill="#62a030"/><ellipse cx="425.30" cy="468.85" rx="1.75" ry="1.35" fill="#62a030"/><path d="M419.07,472.73 C422.04,471.47 424.42,472.52 426.00,473.15 C427.58,472.52 429.96,471.47 432.93,472.73 C435.50,473.77 435.90,476.70 435.50,480.88 C435.11,485.06 435.31,489.24 434.32,491.54 C433.33,493.21 430.75,493.21 429.37,491.95 C427.98,493.42 424.02,493.42 422.63,491.95 C421.25,493.21 418.67,493.21 417.68,491.54 C416.69,489.24 416.89,485.06 416.50,480.88 C416.10,476.70 416.50,473.77 419.07,472.73 Z" fill="#fcf7d9"/><ellipse cx="426.00" cy="474.70" rx="4.16" ry="1.05" fill="#76b82c"/><rect x="425.10" y="471.80" width="1.8" height="2.4" fill="#62a030" opacity="0.8"/><rect x="448.00" y="469.10" width="2.1" height="4.60" fill="#62a030"/><ellipse cx="448.30" cy="468.85" rx="1.75" ry="1.35" fill="#62a030"/><path d="M442.07,472.73 C445.04,471.47 447.42,472.52 449.00,473.15 C450.58,472.52 452.96,471.47 455.93,472.73 C458.50,473.77 458.90,476.70 458.50,480.88 C458.11,485.06 458.31,489.24 457.32,491.54 C456.33,493.21 453.75,493.21 452.37,491.95 C450.98,493.42 447.02,493.42 445.63,491.95 C444.25,493.21 441.67,493.21 440.68,491.54 C439.69,489.24 439.89,485.06 439.50,480.88 C439.10,476.70 439.50,473.77 442.07,472.73 Z" fill="#f8e03e"/><ellipse cx="449.00" cy="474.70" rx="4.16" ry="1.05" fill="#76b82c"/><rect x="448.10" y="471.80" width="1.8" height="2.4" fill="#62a030" opacity="0.8"/><path d="M431.5,482.45 L446.5,482.45" stroke="#4b4b4f" stroke-width="1.15" fill="none" opacity="0.85"/><path d="M443.50,479.65 L446.50,482.45 L443.50,485.25" stroke="#4b4b4f" stroke-width="1.05" fill="none" opacity="0.75"/><rect x="425.00" y="500.60" width="2.1" height="4.60" fill="#62a030"/><ellipse cx="425.30" cy="500.35" rx="1.75" ry="1.35" fill="#62a030"/><path d="M419.07,504.24 C422.04,502.96 424.42,504.03 426.00,504.67 C427.58,504.03 429.96,502.96 432.93,504.24 C435.50,505.31 435.90,508.31 435.50,512.59 C435.11,516.87 435.31,521.15 434.32,523.50 C433.33,525.21 430.75,525.21 429.37,523.93 C427.98,525.43 424.02,525.43 422.63,523.93 C421.25,525.21 418.67,525.21 417.68,523.50 C416.69,521.15 416.89,516.87 416.50,512.59 C416.10,508.31 416.50,505.31 419.07,504.24 Z" fill="#b9c62e"/><ellipse cx="426.00" cy="506.20" rx="4.16" ry="1.05" fill="#76b82c"/><rect x="425.10" y="503.30" width="1.8" height="2.4" fill="#62a030" opacity="0.8"/><rect x="448.00" y="500.60" width="2.1" height="4.60" fill="#62a030"/><ellipse cx="448.30" cy="500.35" rx="1.75" ry="1.35" fill="#62a030"/><path d="M442.07,504.24 C445.04,502.96 447.42,504.03 449.00,504.67 C450.58,504.03 452.96,502.96 455.93,504.24 C458.50,505.31 458.90,508.31 458.50,512.59 C458.11,516.87 458.31,521.15 457.32,523.50 C456.33,525.21 453.75,525.21 452.37,523.93 C450.98,525.43 447.02,525.43 445.63,523.93 C444.25,525.21 441.67,525.21 440.68,523.50 C439.69,521.15 439.89,516.87 439.50,512.59 C439.10,508.31 439.50,505.31 442.07,504.24 Z" fill="#b31d24"/><ellipse cx="449.00" cy="506.20" rx="4.16" ry="1.05" fill="#76b82c"/><rect x="448.10" y="503.30" width="1.8" height="2.4" fill="#62a030" opacity="0.8"/><path d="M431.5,514.20 L446.5,514.20" stroke="#4b4b4f" stroke-width="1.15" fill="none" opacity="0.85"/><path d="M443.50,511.40 L446.50,514.20 L443.50,517.00" stroke="#4b4b4f" stroke-width="1.05" fill="none" opacity="0.75"/><rect x="425.00" y="531.30" width="2.1" height="4.60" fill="#62a030"/><ellipse cx="425.30" cy="531.05" rx="1.75" ry="1.35" fill="#62a030"/><path d="M419.07,534.94 C422.04,533.66 424.42,534.73 426.00,535.37 C427.58,534.73 429.96,533.66 432.93,534.94 C435.50,536.01 435.90,539.01 435.50,543.29 C435.11,547.57 435.31,551.85 434.32,554.20 C433.33,555.91 430.75,555.91 429.37,554.63 C427.98,556.13 424.02,556.13 422.63,554.63 C421.25,555.91 418.67,555.91 417.68,554.20 C416.69,551.85 416.89,547.57 416.50,543.29 C416.10,539.01 416.50,536.01 419.07,534.94 Z" fill="#5a8e2e"/><ellipse cx="426.00" cy="536.90" rx="4.16" ry="1.05" fill="#76b82c"/><rect x="425.10" y="534.00" width="1.8" height="2.4" fill="#62a030" opacity="0.8"/><rect x="448.20" y="531.30" width="2.1" height="4.60" fill="#62a030"/><ellipse cx="448.50" cy="531.05" rx="1.75" ry="1.35" fill="#62a030"/><path d="M442.27,534.94 C445.24,533.66 447.62,534.73 449.20,535.37 C450.78,534.73 453.16,533.66 456.13,534.94 C458.70,536.01 459.10,539.01 458.70,543.29 C458.31,547.57 458.51,551.85 457.52,554.20 C456.53,555.91 453.95,555.91 452.57,554.63 C451.18,556.13 447.22,556.13 445.83,554.63 C444.45,555.91 441.87,555.91 440.88,554.20 C439.89,551.85 440.09,547.57 439.70,543.29 C439.30,539.01 439.70,536.01 442.27,534.94 Z" fill="#e8281c"/><ellipse cx="449.20" cy="536.90" rx="4.16" ry="1.05" fill="#76b82c"/><rect x="448.30" y="534.00" width="1.8" height="2.4" fill="#62a030" opacity="0.8"/><path d="M431.5,544.90 L446.5,544.90" stroke="#4b4b4f" stroke-width="1.15" fill="none" opacity="0.85"/><path d="M443.50,542.10 L446.50,544.90 L443.50,547.70" stroke="#4b4b4f" stroke-width="1.05" fill="none" opacity="0.75"/><rect x="425.00" y="570.60" width="2.1" height="4.60" fill="#62a030"/><ellipse cx="425.30" cy="570.35" rx="1.75" ry="1.35" fill="#62a030"/><path d="M419.07,574.25 C422.04,572.95 424.42,574.03 426.00,574.69 C427.58,574.03 429.96,572.95 432.93,574.25 C435.50,575.34 435.90,578.37 435.50,582.71 C435.11,587.05 435.31,591.39 434.32,593.78 C433.33,595.52 430.75,595.52 429.37,594.21 C427.98,595.73 424.02,595.73 422.63,594.21 C421.25,595.52 418.67,595.52 417.68,593.78 C416.69,591.39 416.89,587.05 416.50,582.71 C416.10,578.37 416.50,575.34 419.07,574.25 Z" fill="#5a8e2e"/><ellipse cx="426.00" cy="576.20" rx="4.16" ry="1.05" fill="#76b82c"/><rect x="425.10" y="573.30" width="1.8" height="2.4" fill="#62a030" opacity="0.8"/><rect x="448.20" y="570.60" width="2.1" height="4.60" fill="#62a030"/><ellipse cx="448.50" cy="570.35" rx="1.75" ry="1.35" fill="#62a030"/><path d="M442.27,574.25 C445.24,572.95 447.62,574.03 449.20,574.69 C450.78,574.03 453.16,572.95 456.13,574.25 C458.70,575.34 459.10,578.37 458.70,582.71 C458.31,587.05 458.51,591.39 457.52,593.78 C456.53,595.52 453.95,595.52 452.57,594.21 C451.18,595.73 447.22,595.73 445.83,594.21 C444.45,595.52 441.87,595.52 440.88,593.78 C439.89,591.39 440.09,587.05 439.70,582.71 C439.30,578.37 439.70,575.34 442.27,574.25 Z" fill="#e8281c"/><ellipse cx="449.20" cy="576.20" rx="4.16" ry="1.05" fill="#76b82c"/><rect x="448.30" y="573.30" width="1.8" height="2.4" fill="#62a030" opacity="0.8"/><path d="M431.5,584.35 L446.5,584.35" stroke="#4b4b4f" stroke-width="1.15" fill="none" opacity="0.85"/><path d="M443.50,581.55 L446.50,584.35 L443.50,587.15" stroke="#4b4b4f" stroke-width="1.05" fill="none" opacity="0.75"/><rect x="425.00" y="611.30" width="2.1" height="4.60" fill="#62a030"/><ellipse cx="425.30" cy="611.05" rx="1.75" ry="1.35" fill="#62a030"/><path d="M419.07,614.94 C422.04,613.66 424.42,614.73 426.00,615.37 C427.58,614.73 429.96,613.66 432.93,614.94 C435.50,616.01 435.90,619.01 435.50,623.29 C435.11,627.57 435.31,631.85 434.32,634.20 C433.33,635.91 430.75,635.91 429.37,634.63 C427.98,636.13 424.02,636.13 422.63,634.63 C421.25,635.91 418.67,635.91 417.68,634.20 C416.69,631.85 416.89,627.57 416.50,623.29 C416.10,619.01 416.50,616.01 419.07,614.94 Z" fill="#5a8e2e"/><ellipse cx="426.00" cy="616.90" rx="4.16" ry="1.05" fill="#76b82c"/><rect x="425.10" y="614.00" width="1.8" height="2.4" fill="#62a030" opacity="0.8"/><rect x="448.20" y="611.30" width="2.1" height="4.60" fill="#62a030"/><ellipse cx="448.50" cy="611.05" rx="1.75" ry="1.35" fill="#62a030"/><path d="M442.27,614.94 C445.24,613.66 447.62,614.73 449.20,615.37 C450.78,614.73 453.16,613.66 456.13,614.94 C458.70,616.01 459.10,619.01 458.70,623.29 C458.31,627.57 458.51,631.85 457.52,634.20 C456.53,635.91 453.95,635.91 452.57,634.63 C451.18,636.13 447.22,636.13 445.83,634.63 C444.45,635.91 441.87,635.91 440.88,634.20 C439.89,631.85 440.09,627.57 439.70,623.29 C439.30,619.01 439.70,616.01 442.27,614.94 Z" fill="#e8281c"/><ellipse cx="449.20" cy="616.90" rx="4.16" ry="1.05" fill="#76b82c"/><rect x="448.30" y="614.00" width="1.8" height="2.4" fill="#62a030" opacity="0.8"/><path d="M431.5,624.90 L446.5,624.90" stroke="#4b4b4f" stroke-width="1.15" fill="none" opacity="0.85"/><path d="M443.50,622.10 L446.50,624.90 L443.50,627.70" stroke="#4b4b4f" stroke-width="1.05" fill="none" opacity="0.75"/></svg>
</body></html>
